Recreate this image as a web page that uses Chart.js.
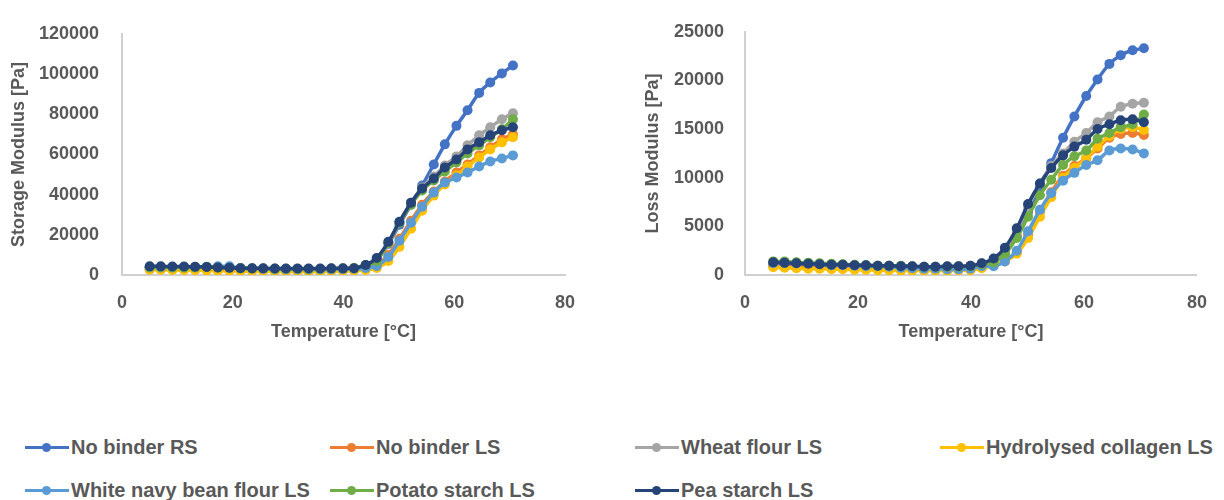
<!DOCTYPE html>
<html>
<head>
<meta charset="utf-8">
<script src="https://cdn.jsdelivr.net/npm/chart.js@4.4.1/dist/chart.umd.min.js"></script>
<style>
    html, body { margin: 0; padding: 0; background: #ffffff; }
    body { width: 1224px; height: 500px; position: relative; overflow: hidden; font-family: "Liberation Sans", Arial, sans-serif; }
    .chart-box { position: absolute; top: 0; height: 350px; }
    #storage-box { left: 0; width: 600px; }
    #loss-box { left: 610px; width: 614px; }
    .legend {
        position: absolute; left: 25px; top: 435px;
        display: grid; grid-template-columns: repeat(4, 305px);
        grid-auto-rows: 24px; row-gap: 19px;
        font-size: 20px; font-weight: bold; color: #595959;
    }
    .legend-item { display: flex; align-items: center; white-space: nowrap; line-height: 24px; }
    .legend-mark { position: relative; width: 44px; height: 3px; margin-right: 2px; flex: none; }
    .legend-mark::after {
        content: ''; position: absolute; left: 17px; top: -3px;
        width: 9px; height: 9px; border-radius: 50%; background: inherit;
    }
</style>
</head>
<body>
<div class="chart-box" id="storage-box"><canvas id="storage-chart" width="600" height="350"></canvas></div>
<div class="chart-box" id="loss-box"><canvas id="loss-chart" width="614" height="350"></canvas></div>
<div class="legend" id="legend"></div>
<script>
"use strict";

// Temperature [°C] of each measuring point
const temperatures = [5, 7, 9.1, 11.2, 13.2, 15.3, 17.3, 19.4, 21.4, 23.5, 25.5, 27.6, 29.6, 31.7, 33.7, 35.8, 37.8, 39.9, 41.9,
    44, 46, 48.1, 50.1, 52.2, 54.2, 56.3, 58.3, 60.4, 62.4, 64.5, 66.5, 68.6, 70.6];

const seriesNames = ['No binder RS', 'No binder LS', 'Wheat flour LS', 'Hydrolysed collagen LS',
    'White navy bean flour LS', 'Potato starch LS', 'Pea starch LS'];
const seriesColors = ['#4472C4', '#ED7D31', '#A5A5A5', '#FFC000', '#5B9BD5', '#70AD47', '#264478'];

// Storage modulus [Pa]
const storageNoBinderRS = [3800, 3700, 3600, 3500, 3400, 3300, 3200, 3100, 3000, 2900, 2800, 2700, 2700, 2600, 2600, 2600, 2700, 2800, 3000,
    4000, 7500, 15500, 25000, 35000, 44500, 55000, 65000, 74200, 82000, 90600, 95800, 100300, 104200];
const storageNoBinderLS = [2800, 2800, 2700, 2700, 2600, 2500, 2400, 2300, 2200, 2100, 2100, 2000, 2000, 2000, 2000, 2000, 2100, 2200, 2400,
    3000, 5000, 10000, 18000, 27000, 35000, 41500, 46500, 51000, 55000, 59500, 63500, 67500, 70000];
const storageWheat = [4000, 4000, 3900, 3900, 3800, 3700, 3600, 3500, 3400, 3300, 3200, 3200, 3100, 3100, 3100, 3100, 3200, 3200, 3400,
    4500, 8000, 16000, 26000, 36000, 43500, 49000, 54500, 59000, 64500, 69500, 73500, 77500, 80500];
const storageCollagen = [2600, 2600, 2500, 2500, 2400, 2300, 2200, 2100, 2000, 2000, 1900, 1900, 1800, 1800, 1800, 1800, 1900, 2000, 2200,
    2500, 3500, 7000, 14000, 23000, 32000, 39500, 45000, 49500, 54000, 58500, 62500, 66000, 68500];
const storageBean = [3700, 3700, 3700, 3700, 3800, 4000, 4300, 4300, 3500, 3200, 3000, 2900, 2800, 2800, 2700, 2700, 2800, 2900, 3100,
    3500, 4500, 9000, 17000, 26000, 34000, 41000, 46000, 48500, 51000, 54000, 56500, 58000, 59500];
const storagePotato = [3900, 3900, 3800, 3800, 3800, 4100, 3600, 3500, 3300, 3200, 3200, 3100, 3100, 3000, 3000, 3000, 3100, 3200, 3500,
    5000, 7000, 16000, 26000, 35000, 42000, 47000, 51500, 56000, 60500, 64500, 68500, 72500, 77500];
const storagePea = [4300, 4300, 4200, 4200, 4100, 4000, 3700, 3600, 3400, 3300, 3300, 3200, 3200, 3200, 3200, 3200, 3300, 3300, 3400,
    5000, 8500, 16500, 26500, 36000, 43000, 48000, 53500, 57500, 62500, 66000, 69500, 72000, 73500];

// Loss modulus [Pa]
const lossNoBinderRS = [1100, 1050, 1000, 950, 900, 850, 800, 750, 700, 650, 600, 550, 500, 500, 500, 500, 550, 600, 800,
    1300, 2200, 4000, 6500, 9000, 11500, 14100, 16300, 18400, 20100, 21700, 22600, 23100, 23300];
const lossNoBinderLS = [900, 850, 800, 800, 750, 700, 700, 650, 650, 600, 600, 550, 550, 550, 550, 550, 600, 600, 800,
    1000, 1500, 2400, 4200, 6500, 8500, 10200, 11200, 12000, 13000, 14100, 14500, 14600, 14400];
const lossWheat = [1300, 1300, 1250, 1200, 1150, 1100, 1050, 1000, 1000, 950, 950, 900, 850, 850, 850, 850, 900, 950, 1200,
    1400, 2500, 4500, 7000, 9400, 11200, 12500, 13700, 14600, 15700, 16300, 17300, 17600, 17700];
const lossCollagen = [800, 750, 700, 650, 650, 600, 600, 550, 550, 500, 500, 450, 450, 450, 450, 450, 500, 500, 700,
    1000, 1400, 2200, 3800, 6000, 8000, 10000, 11000, 12000, 13200, 14300, 15000, 15200, 14900];
const lossBean = [1200, 1250, 1200, 1200, 1100, 1000, 1000, 950, 900, 900, 850, 750, 700, 650, 650, 600, 600, 650, 900,
    900, 1400, 2500, 4500, 6700, 8400, 9700, 10500, 11300, 11800, 12800, 13000, 12900, 12500];
const lossPotato = [1400, 1400, 1300, 1250, 1200, 1150, 1100, 1050, 1000, 950, 950, 950, 900, 850, 850, 850, 850, 900, 1100,
    1300, 2200, 3800, 6000, 8200, 9800, 11300, 12200, 12800, 14000, 14600, 15200, 15500, 16500];
const lossPea = [1300, 1250, 1200, 1150, 1100, 1050, 1050, 1000, 1000, 950, 950, 900, 900, 850, 850, 900, 900, 950, 1200,
    1700, 2800, 4800, 7300, 9400, 11000, 12300, 13200, 13900, 15000, 15500, 15900, 16000, 15700];

const xTicks = { min: 0, max: 80, step: 20 };

Chart.defaults.font.family = '"Liberation Sans", Arial, sans-serif';
Chart.defaults.font.size = 18;
Chart.defaults.font.weight = 'bold';
Chart.defaults.color = '#595959';

document.addEventListener('DOMContentLoaded', () => {
    initModulusChart('storage-chart', {
        series: [storageNoBinderRS, storageNoBinderLS, storageWheat, storageCollagen, storageBean, storagePotato, storagePea],
        yMax: 120000, yStep: 20000, yTitle: 'Storage Modulus [Pa]',
        axisWidth: 122, titleGap: 8, labelGap: 23,
        padding: { top: 23, right: 35, bottom: 0, left: 0 }
    });
    initModulusChart('loss-chart', {
        series: [lossNoBinderRS, lossNoBinderLS, lossWheat, lossCollagen, lossBean, lossPotato, lossPea],
        yMax: 25000, yStep: 5000, yTitle: 'Loss Modulus [Pa]',
        axisWidth: 135, titleGap: 32, labelGap: 21,
        padding: { top: 22, right: 20, bottom: 0, left: 0 }
    });
    buildLegend();
});

/**
 * One modulus vs temperature chart, dots with a smooth line per sample
 */
function initModulusChart(canvasId, cfg) {
    const ctx = document.getElementById(canvasId).getContext('2d');

    const datasets = cfg.series.map((values, i) => ({
        label: seriesNames[i],
        data: values.map((v, k) => ({ x: temperatures[k], y: v })),
        borderColor: seriesColors[i],
        backgroundColor: seriesColors[i],
        borderWidth: 3.5,
        cubicInterpolationMode: 'monotone',
        pointRadius: 5,
        pointBorderWidth: 0,
        pointBackgroundColor: seriesColors[i],
        order: seriesNames.length - i
    }));

    new Chart(ctx, {
        type: 'line',
        data: { datasets: datasets },
        options: {
            responsive: false,
            animation: false,
            layout: { padding: cfg.padding },
            plugins: {
                legend: { display: false },
                tooltip: { enabled: false }
            },
            scales: {
                x: {
                    type: 'linear',
                    min: xTicks.min,
                    max: xTicks.max,
                    grid: { display: false, drawTicks: false },
                    border: { display: true, color: '#d0d0d0', width: 2 },
                    ticks: { stepSize: xTicks.step, padding: 17, maxRotation: 0 },
                    title: {
                        display: true,
                        text: 'Temperature [°C]',
                        padding: { top: 0, bottom: 7 }
                    },
                    afterFit: (scale) => { scale.height = 75; }
                },
                y: {
                    type: 'linear',
                    min: 0,
                    max: cfg.yMax,
                    grid: { display: false, drawTicks: false },
                    border: { display: true, color: '#d0d0d0', width: 2 },
                    ticks: {
                        stepSize: cfg.yStep,
                        padding: cfg.labelGap,
                        callback: (value) => String(value)
                    },
                    title: {
                        display: true,
                        text: cfg.yTitle,
                        padding: { top: cfg.titleGap, bottom: 0 }
                    },
                    afterFit: (scale) => { scale.width = cfg.axisWidth; }
                }
            }
        }
    });
}

function buildLegend() {
    const legend = document.getElementById('legend');
    seriesNames.forEach((name, i) => {
        const item = document.createElement('div');
        item.className = 'legend-item';
        const mark = document.createElement('span');
        mark.className = 'legend-mark';
        mark.style.background = seriesColors[i];
        item.appendChild(mark);
        item.appendChild(document.createTextNode(name));
        legend.appendChild(item);
    });
}
</script>
</body>
</html>
